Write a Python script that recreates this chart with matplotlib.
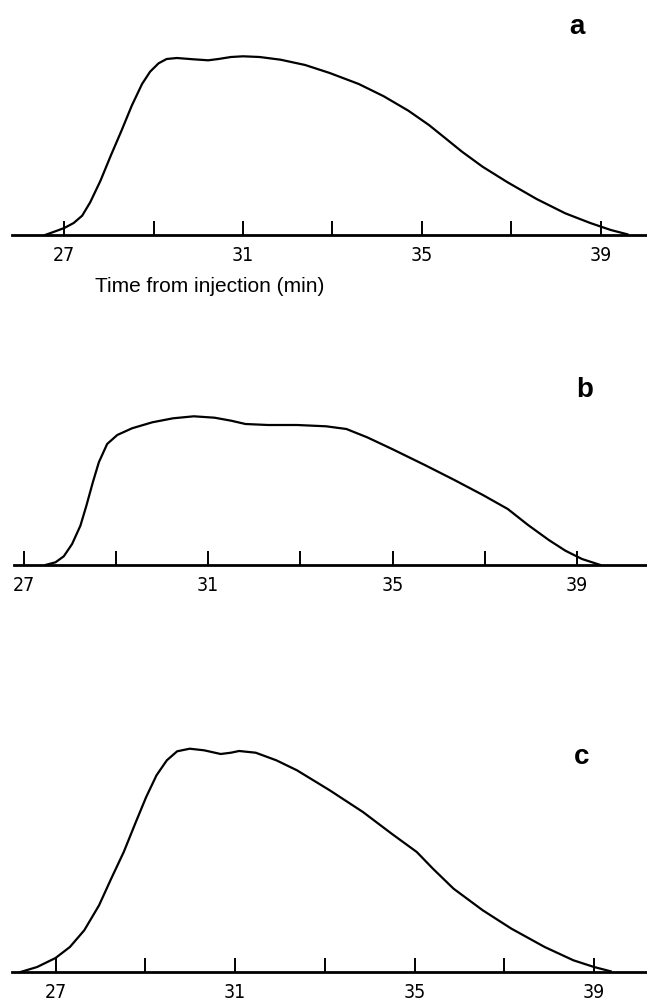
import matplotlib.pyplot as plt
from matplotlib.ticker import FixedLocator

# elution profiles, time (min) vs detector height (arbitrary units)
t_a = [26.57, 26.80, 27.00, 27.21, 27.40, 27.58, 27.81, 28.04, 28.28, 28.51, 28.74, 28.92,
       29.11, 29.29, 29.52, 29.89, 30.22, 30.45, 30.73, 31.00, 31.37, 31.84, 32.39, 32.94,
       33.59, 34.15, 34.70, 35.16, 35.53, 35.90, 36.36, 36.92, 37.57, 38.21, 38.77, 39.23, 39.60]
h_a = [0, 3.7, 7, 12, 19.3, 32.7, 54.3, 79.3, 104.3, 129.3, 151, 163.3,
       171.7, 176, 177, 175.7, 174.7, 176, 178, 178.7, 178, 175.3, 170, 162,
       151, 138.7, 124.3, 110, 96.7, 83.3, 68.3, 52.7, 36, 21.7, 12, 5, 0.7]

t_b = [27.47, 27.69, 27.87, 28.05, 28.23, 28.36, 28.50, 28.63, 28.81, 29.03, 29.35, 29.79,
       30.24, 30.69, 31.14, 31.50, 31.81, 32.30, 32.93, 33.56, 34.00, 34.45, 34.99, 35.70,
       36.33, 36.96, 37.50, 37.94, 38.39, 38.75, 39.11, 39.51]
h_b = [0, 2.7, 8.7, 21, 39.3, 59.3, 82.7, 102.7, 121, 130, 136.7, 142.7,
       146.7, 148.7, 147.3, 144.3, 141, 140, 140, 138.7, 136, 127.7, 116, 100,
       85.3, 70, 56, 40, 25, 14.3, 6, 0]

t_c = [26.22, 26.59, 27.00, 27.32, 27.64, 27.97, 28.24, 28.52, 28.79, 29.02, 29.25, 29.48,
       29.71, 29.99, 30.31, 30.68, 30.91, 31.09, 31.46, 31.92, 32.38, 33.11, 33.85, 34.49,
       35.05, 35.41, 35.87, 36.52, 37.16, 37.90, 38.54, 39.00, 39.37]
h_c = [0, 5, 14, 25, 41.7, 66.7, 93.3, 120, 150, 175, 196.7, 211.7,
       220.7, 223.3, 221.7, 218, 219.3, 221, 219.3, 211.7, 201.7, 181.7, 160, 138.3,
       120, 103.3, 83.3, 61.7, 43.3, 25, 11.7, 5, 0.7]

major_ticks = [27, 31, 35, 39]
minor_ticks = [29, 33, 37]
panel_labels = ['a', 'b', 'c']

W, H = 647, 1003
fig = plt.figure(figsize=(W / 100, H / 100), dpi=100)

# (curve, left edge px, baseline px, xlim, ylim top, label pos px)
panels = [
    (t_a, h_a, 12, 236, (25.83, 40.04), 200, (577, 27)),
    (t_b, h_b, 14, 566, (26.79, 40.52), 200, (585, 390)),
    (t_c, h_c, 12, 973, (26.03, 40.18), 240, (582, 757)),
]

for i, (t, h, x0, base, xlim, ytop, lab) in enumerate(panels):
    ax = fig.add_axes([x0 / W, (H - base) / H, (W - x0) / W, ytop / H])
    ax.plot(t, h, color='black', lw=1.6, solid_joinstyle='round', clip_on=False)
    ax.set_xlim(*xlim)
    ax.set_ylim(0, ytop)
    for s in ['left', 'top', 'right']:
        ax.spines[s].set_visible(False)
    ax.spines['bottom'].set_linewidth(2.0)
    ax.set_yticks([])
    ax.xaxis.set_major_locator(FixedLocator(major_ticks))
    ax.xaxis.set_minor_locator(FixedLocator(minor_ticks))
    ax.tick_params(axis='x', which='both', direction='in', length=10, width=1.4,
                   color='black', pad=7)
    ax.set_xticklabels([str(v) for v in major_ticks], fontsize=14,
                       family='DejaVu Sans', fontstretch='condensed')
    ax.patch.set_alpha(0)
    fig.text(lab[0] / W, 1 - lab[1] / H, panel_labels[i], fontsize=20,
             fontweight='bold', family='Liberation Sans', ha='center', va='center')
    if i == 0:
        fig.text(210 / W, 1 - 287 / H, 'Time from injection (min)', fontsize=15,
                 family='Liberation Sans', ha='center', va='center')

fig.savefig('out.png', dpi=100)
